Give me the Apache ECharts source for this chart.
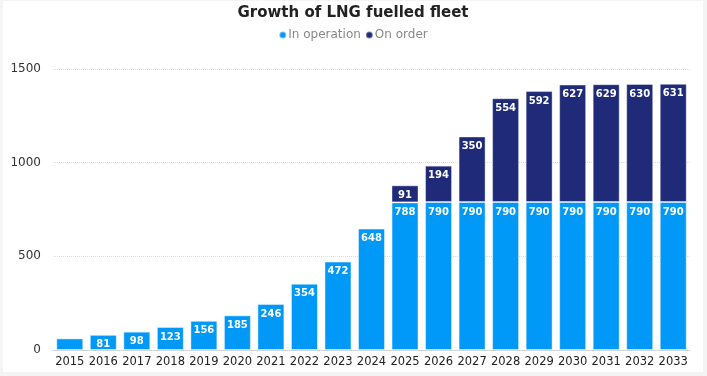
<!DOCTYPE html>
<html>
<head>
<meta charset="utf-8">
<script src="https://cdn.jsdelivr.net/npm/echarts@6/dist/echarts.min.js"></script>
<style>
  html, body { margin: 0; padding: 0; background: #f4f4f4; }
  #box { position: absolute; left: 3px; top: 1px; width: 700px; height: 371px; background: #fff; }
</style>
</head>
<body>
<div id="box"></div>
<script>
var years = ['2015', '2016', '2017', '2018', '2019', '2020', '2021', '2022', '2023', '2024',
             '2025', '2026', '2027', '2028', '2029', '2030', '2031', '2032', '2033'];
var inOperation = [62, 81, 98, 123, 156, 185, 246, 354, 472, 648,
                   788, 790, 790, 790, 790, 790, 790, 790, 790];
var onOrder = [null, null, null, null, null, null, null, null, null, null,
               91, 194, 350, 554, 592, 627, 629, 630, 631];
var yTicks = [0, 500, 1000, 1500];

var dom = document.getElementById("box");
var myChart = echarts.init(dom);
var font = 'DejaVu Sans';

var labelStyle = {
    show: true,
    position: 'insideTop',
    color: '#fff',
    fontWeight: 'bold',
    fontSize: 10,
    fontFamily: font,
    distance: 5
};

option = {
    animation: false,
    title: {
        text: 'Growth of LNG fuelled fleet',
        left: 'center',
        top: 0,
        textStyle: {fontFamily: font, fontSize: 15, fontWeight: 'bold', color: '#222'}
    },
    legend: {
        top: 23,
        left: 'center',
        icon: 'circle',
        itemWidth: 7,
        itemHeight: 7,
        itemGap: 4,
        textStyle: {fontFamily: font, fontSize: 12, color: '#888', padding: [0, 0, 0, -3]},
        data: ['In operation', 'On order']
    },
    grid: {left: 50, right: 13, top: 68, bottom: 22},
    xAxis: {
        type: 'category',
        data: years,
        axisTick: {show: false},
        axisLine: {lineStyle: {color: '#ccc', type: 'dotted'}},
        axisLabel: {fontFamily: font, fontSize: 11.5, color: '#222', margin: 6, interval: 0}
    },
    yAxis: {
        type: 'value',
        min: yTicks[0],
        max: yTicks[yTicks.length - 1],
        interval: 500,
        axisLabel: {fontFamily: font, fontSize: 12, color: '#333', margin: 12,
                    formatter: function (v) { return String(v); }},
        splitLine: {lineStyle: {color: '#ddd', type: 'dotted'}}
    },
    series: [
        {
            name: 'In operation',
            type: 'bar',
            stack: 'fleet',
            barWidth: 27,
            itemStyle: {color: '#0099f8', borderColor: 'rgba(255,255,255,0.45)', borderWidth: 1},
            label: labelStyle,
            data: inOperation.map(function (v, i) {
                return i === 0 ? {value: v, label: {show: false}} : v;
            })
        },
        {
            name: 'On order',
            type: 'bar',
            stack: 'fleet',
            barWidth: 27,
            itemStyle: {color: '#1f2a78', borderColor: 'rgba(255,255,255,0.4)', borderWidth: 1},
            label: labelStyle,
            data: onOrder
        }
    ]
};

if (option && typeof option === "object") {
    myChart.setOption(option, true);
}
</script>
</body>
</html>
